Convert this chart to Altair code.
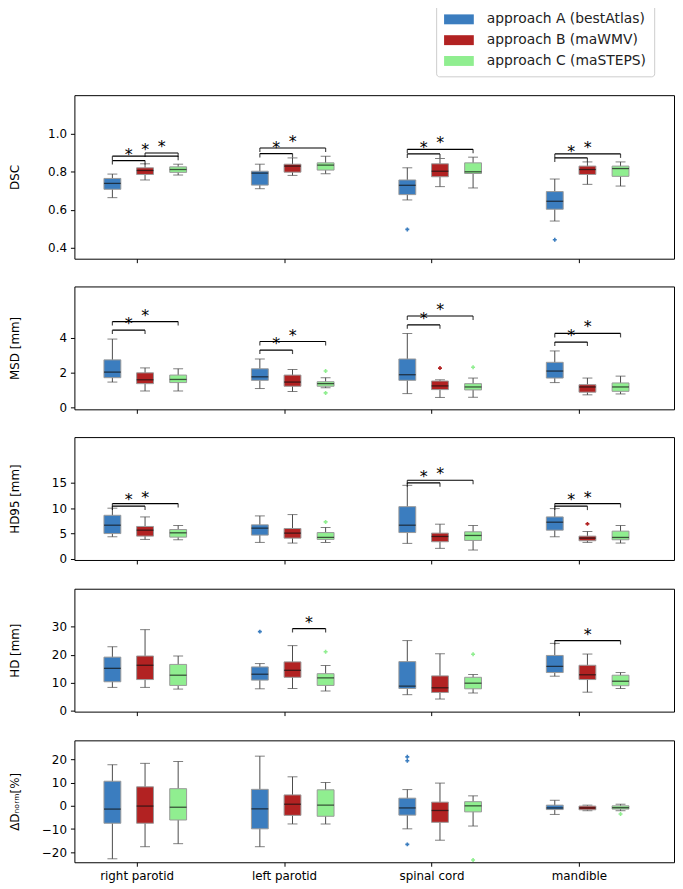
import altair as alt
import pandas as pd

# ---------------- data ----------------
STRUCTURES = ["right parotid", "left parotid", "spinal cord", "mandible"]
APPROACHES = ["approach A (bestAtlas)", "approach B (maWMV)", "approach C (maSTEPS)"]
COLORS = ["#3b7dbf", "#b22222", "#90ee90"]

PANEL_TITLES = ["DSC", "MSD [mm]", "HD95 [mm]", "HD [mm]", "ΔDₙₒᵣₘ[%]"]
PANEL_TICKS = [[0.4, 0.6, 0.8, 1.0], [0, 2, 4], [0, 5, 10, 15], [0, 10, 20, 30], [-20, -10, 0, 10, 20]]
PANEL_DOMAINS = [[0.343, 1.203], [-0.11, 6.92], [-0.2, 24.0], [-0.24, 43.6], [-24.3, 28.2]]
PANEL_FORMATS = [".1f", "d", "d", "d", "d"]

# box statistics, order: (right parotid A,B,C), (left parotid A,B,C), (spinal cord A,B,C), (mandible A,B,C)
DSC_LO = [0.664, 0.757, 0.783, 0.711, 0.781, 0.790, 0.652, 0.722, 0.715, 0.541, 0.734, 0.725]
DSC_Q1 = [0.708, 0.786, 0.797, 0.730, 0.798, 0.809, 0.680, 0.774, 0.791, 0.603, 0.786, 0.776]
DSC_MED = [0.739, 0.807, 0.812, 0.793, 0.830, 0.835, 0.729, 0.803, 0.800, 0.645, 0.812, 0.817]
DSC_Q3 = [0.765, 0.821, 0.826, 0.803, 0.840, 0.847, 0.757, 0.842, 0.847, 0.696, 0.830, 0.830]
DSC_HI = [0.788, 0.842, 0.840, 0.840, 0.873, 0.882, 0.821, 0.870, 0.877, 0.762, 0.852, 0.852]

MSD_LO = [1.45, 0.94, 0.94, 1.08, 0.91, 1.12, 0.79, 0.57, 0.58, 1.42, 0.72, 0.77]
MSD_Q1 = [1.70, 1.36, 1.42, 1.55, 1.21, 1.21, 1.55, 1.02, 1.00, 1.68, 0.87, 0.92]
MSD_MED = [2.02, 1.58, 1.60, 1.75, 1.45, 1.36, 1.87, 1.23, 1.17, 2.08, 1.17, 1.17]
MSD_Q3 = [2.72, 1.98, 1.85, 2.21, 1.85, 1.47, 2.77, 1.51, 1.36, 2.58, 1.30, 1.40]
MSD_HI = [3.91, 2.26, 2.21, 2.77, 2.17, 1.70, 4.23, 1.58, 1.68, 3.23, 1.68, 1.79]

HD95_LO = [4.37, 3.85, 3.78, 3.26, 3.13, 3.26, 3.07, 2.09, 1.76, 4.37, 3.26, 3.13]
HD95_Q1 = [5.0, 4.5, 4.3, 4.70, 4.1, 3.85, 5.2, 3.39, 3.65, 5.67, 3.59, 3.78]
HD95_MED = [6.65, 5.67, 5.15, 6.07, 5.09, 4.24, 6.65, 4.43, 4.63, 7.24, 4.11, 4.24]
HD95_Q3 = [8.6, 6.4, 5.8, 6.72, 6.0, 5.2, 10.3, 5.09, 5.35, 8.28, 4.5, 5.48]
HD95_HI = [10.0, 8.28, 6.59, 8.48, 8.74, 6.2, 14.5, 6.85, 6.59, 9.92, 5.41, 6.59]

HD_LO = [8.4, 8.4, 7.8, 7.9, 8.0, 7.1, 5.8, 4.25, 6.4, 12.4, 6.7, 8.0]
HD_Q1 = [10.4, 11.2, 9.1, 11.0, 12.0, 9.1, 8.0, 6.6, 7.9, 13.7, 11.2, 9.0]
HD_MED = [15.2, 16.3, 12.75, 13.1, 14.5, 11.8, 8.85, 8.26, 9.9, 15.9, 12.9, 10.6]
HD_Q3 = [19.2, 19.6, 16.6, 15.7, 17.5, 13.3, 17.6, 12.5, 12.0, 19.8, 16.3, 12.75]
HD_HI = [22.9, 29.0, 19.6, 16.9, 23.3, 16.2, 25.1, 20.4, 13.0, 24.1, 20.3, 13.7]

DD_LO = [-22.8, -17.6, -16.3, -17.6, -7.8, -7.8, -9.9, -14.8, -8.7, -3.7, -2.1, -2.1]
DD_Q1 = [-7.5, -7.5, -6.1, -9.9, -4.1, -4.5, -4.0, -7.1, -2.6, -1.6, -1.7, -1.4]
DD_MED = [-1.4, -0.1, -0.6, -1.3, 0.7, 0.3, -0.9, -2.0, 0.0, -0.9, -0.9, -0.8]
DD_Q3 = [10.6, 8.2, 7.4, 7.1, 4.7, 6.9, 3.3, 1.6, 1.8, 0.3, -0.1, 0.0]
DD_HI = [17.7, 18.3, 19.1, 21.4, 12.5, 10.1, 7.0, 9.8, 4.3, 2.4, 0.3, 0.7]

# outliers: panel, structure, approach, value
OUT_PANEL = [0, 0, 1, 1, 1, 1, 2, 2, 3, 3, 3, 4, 4, 4, 4, 4]
OUT_STRUCT = [2, 3, 1, 1, 2, 2, 1, 3, 1, 1, 2, 2, 2, 2, 2, 3]
OUT_APPR = [0, 0, 2, 2, 1, 2, 2, 1, 0, 2, 2, 0, 0, 0, 2, 2]
OUT_VALUE = [0.497, 0.443, 2.08, 0.83, 2.25, 2.30, 7.3, 6.91, 28.3, 21.1, 20.2, 21.1, 19.4, -16.6, -23.3, -3.5]

# significance brackets: panel, structure, from-approach, to-approach, level
BR_PANEL = [0, 0, 0, 0, 0, 0, 0, 0, 0, 1, 1, 1, 1, 1, 1, 1, 1, 2, 2, 2, 2, 2, 2, 3, 3]
BR_STRUCT = [0, 0, 0, 1, 1, 2, 2, 3, 3, 0, 0, 1, 1, 2, 2, 3, 3, 0, 0, 2, 2, 3, 3, 1, 3]
BR_FROM = [0, 0, 1, 0, 0, 0, 0, 0, 0, 0, 0, 0, 0, 0, 0, 0, 0, 0, 0, 0, 0, 0, 0, 1, 0]
BR_TO = [1, 2, 2, 1, 2, 1, 2, 1, 2, 1, 2, 1, 2, 1, 2, 1, 2, 1, 2, 1, 2, 1, 2, 2, 2]
BR_LEVEL = [0.859, 0.882, 0.899, 0.896, 0.925, 0.894, 0.918, 0.873, 0.894,
            4.42, 4.91, 3.28, 3.77, 4.72, 5.23, 3.74, 4.23,
            10.4, 10.9, 15.0, 15.5, 10.4, 10.9,
            29.4, 25.1]

# ---------------- layout ----------------
GROUP_OFFSET = [-0.164, 0.0575, 0.282]
X_DOMAIN = [-0.388, 3.611]
WIDTH = 605
HEIGHTS = [165, 124, 124, 124, 123]
BOX_W = 17
CAP_W = 10
WHISKER = "#4a4a4a"

STATS = [
    (DSC_LO, DSC_Q1, DSC_MED, DSC_Q3, DSC_HI),
    (MSD_LO, MSD_Q1, MSD_MED, MSD_Q3, MSD_HI),
    (HD95_LO, HD95_Q1, HD95_MED, HD95_Q3, HD95_HI),
    (HD_LO, HD_Q1, HD_MED, HD_Q3, HD_HI),
    (DD_LO, DD_Q1, DD_MED, DD_Q3, DD_HI),
]

rows = []
for p, (lo, q1, med, q3, hi) in enumerate(STATS):
    for k in range(12):
        s, a = divmod(k, 3)
        rows.append(dict(panel=p, x=s + GROUP_OFFSET[a], approach=APPROACHES[a],
                         lo=lo[k], q1=q1[k], med=med[k], q3=q3[k], hi=hi[k]))
stats_df = pd.DataFrame(rows)

out_df = pd.DataFrame(dict(
    panel=OUT_PANEL,
    x=[s + GROUP_OFFSET[a] for s, a in zip(OUT_STRUCT, OUT_APPR)],
    value=OUT_VALUE,
    ocolor=[COLORS[a] for a in OUT_APPR],
))

br_df = pd.DataFrame(dict(
    panel=BR_PANEL,
    x1=[s + GROUP_OFFSET[a] for s, a in zip(BR_STRUCT, BR_FROM)],
    x2=[s + GROUP_OFFSET[b] for s, b in zip(BR_STRUCT, BR_TO)],
    level=BR_LEVEL,
))
br_df["xm"] = (br_df.x1 + br_df.x2) / 2
br_ends = pd.concat([
    br_df[["panel", "x1", "level"]].rename(columns={"x1": "x"}),
    br_df[["panel", "x2", "level"]].rename(columns={"x2": "x"}),
], ignore_index=True)

label_expr = "[" + ",".join("'%s'" % s for s in STRUCTURES) + "][datum.value]"

# symbol: 30x10 rectangle drawn to the right of a 15px symbol column
legend = alt.Legend(
    title=None, orient="none", legendX=365, legendY=-92,
    symbolType="M-1,-0.6667H3V0.6667H-1Z", symbolSize=225, symbolStrokeWidth=0,
    symbolOpacity=1, labelFontSize=14, labelFont="DejaVu Sans", labelColor="#222222",
    labelOffset=28, labelLimit=400, rowPadding=6, padding=8, strokeColor="#cccccc",
    cornerRadius=3, fillColor="white",
)


def build_panel(p):
    last = p == len(STATS) - 1
    s = stats_df[stats_df.panel == p]
    o = out_df[out_df.panel == p]
    b = br_df[br_df.panel == p]
    e = br_ends[br_ends.panel == p]

    xscale = alt.Scale(domain=X_DOMAIN, nice=False, zero=False)
    xaxis = alt.Axis(values=[0, 1, 2, 3], labels=last, labelExpr=label_expr, title=None,
                     grid=False, domain=False, ticks=True, tickSize=4, labelPadding=4,
                     labelFontSize=12)
    yscale = alt.Scale(domain=PANEL_DOMAINS[p], nice=False, zero=False)
    yaxis = alt.Axis(title=PANEL_TITLES[p], values=PANEL_TICKS[p], format=PANEL_FORMATS[p],
                     labelExpr="replace(datum.label, '-', '\u2212')",
                     grid=False, domain=False, tickSize=4, labelPadding=4,
                     titleX=-60, titleY=HEIGHTS[p] / 2, titleAngle=-90,
                     titleBaseline="middle", titleAlign="center")

    def X(f):
        return alt.X(f, scale=xscale, axis=xaxis)

    def Y(f):
        return alt.Y(f, scale=yscale, axis=yaxis)

    base = alt.Chart(s)
    layers = [
        base.mark_rule(color=WHISKER, strokeWidth=1).encode(x=X("x:Q"), y=Y("lo:Q"), y2="hi:Q"),
        base.mark_tick(orient="horizontal", size=CAP_W, thickness=1, color=WHISKER).encode(x=X("x:Q"), y=Y("lo:Q")),
        base.mark_tick(orient="horizontal", size=CAP_W, thickness=1, color=WHISKER).encode(x=X("x:Q"), y=Y("hi:Q")),
        base.mark_bar(size=BOX_W, stroke="#9a9a9a", strokeWidth=1, opacity=1).encode(
            x=X("x:Q"), y=Y("q1:Q"), y2="q3:Q",
            color=alt.Color("approach:N", scale=alt.Scale(domain=APPROACHES, range=COLORS),
                            legend=legend if p == 0 else None)),
        base.mark_tick(orient="horizontal", size=BOX_W, thickness=1.3, color="#111111").encode(
            x=X("x:Q"), y=Y("med:Q")),
    ]
    if len(o):
        layers.append(alt.Chart(o).mark_point(shape="cross", filled=True, size=16, opacity=1).encode(
            x=X("x:Q"), y=Y("value:Q"), color=alt.Color("ocolor:N", scale=None)))
    if len(b):
        layers.append(alt.Chart(b).mark_rule(color="black", strokeWidth=1.2).encode(
            x=X("x1:Q"), x2="x2:Q", y=Y("level:Q")))
        layers.append(alt.Chart(e).mark_tick(orient="vertical", size=4, thickness=1.2, yOffset=2,
                                             color="black").encode(x=X("x:Q"), y=Y("level:Q")))
        layers.append(alt.Chart(b).mark_text(text="*", fontSize=16, baseline="alphabetic", dy=-1,
                                             color="black", font="DejaVu Sans").encode(
            x=X("xm:Q"), y=Y("level:Q")))
    return alt.layer(*layers).properties(width=WIDTH, height=HEIGHTS[p])


panels = [build_panel(p) for p in range(len(STATS))]

chart = (
    alt.vconcat(*panels, spacing=22)
    .resolve_scale(color="independent")
    .properties(padding={"left": 0, "top": -9, "right": 0, "bottom": 0})
    .configure(font="DejaVu Sans")
    .configure_view(stroke="black", strokeWidth=1)
    .configure_axis(labelColor="black", tickColor="black", titleColor="black",
                    labelFontSize=12, titleFontSize=12, titleFontWeight="normal",
                    labelFont="DejaVu Sans", titleFont="DejaVu Sans", tickWidth=1)
)

chart.save("out.html", embed_options={"renderer": "svg", "actions": False})
